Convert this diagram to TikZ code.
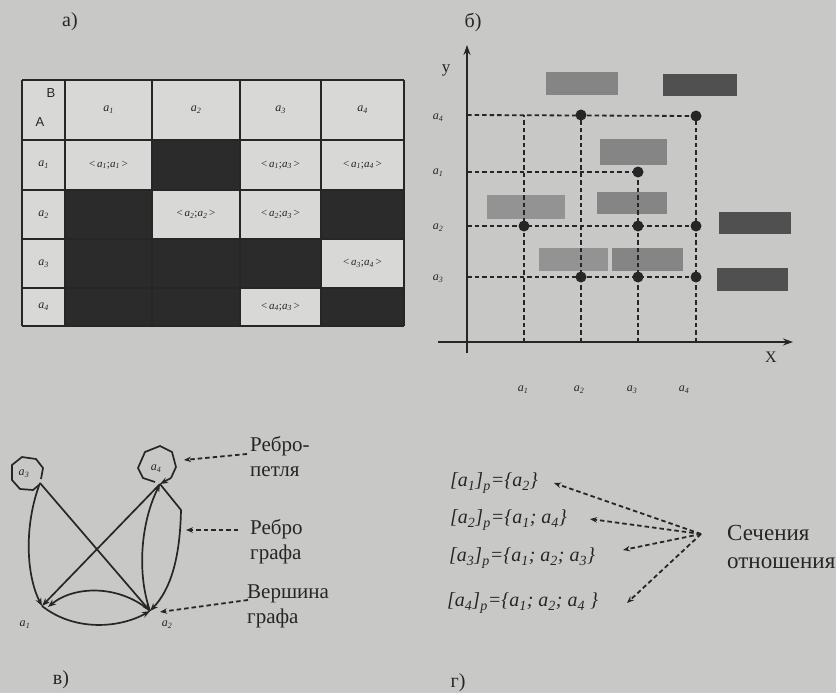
\documentclass[tikz,border=0pt]{standalone}
\usepackage{fontspec}
\setmainfont{Liberation Serif}
\newfontfamily\arialf{Liberation Sans}
\usetikzlibrary{arrows.meta}
\definecolor{bg}{HTML}{C8C8C6}
\definecolor{cellL}{HTML}{D8D8D6}
\definecolor{cellD}{HTML}{2B2B2B}
\definecolor{ink}{HTML}{262626}
\definecolor{boxM}{HTML}{858585}
\definecolor{boxL}{HTML}{939393}
\definecolor{boxD}{HTML}{505050}
\newcommand{\va}[1]{\textit{a}\textsubscript{\textit{#1}}}
\begin{document}
\begin{tikzpicture}[x=1pt,y=-1pt,
  every node/.style={inner sep=0pt, text=ink},
  gridline/.style={draw=ink, line width=1.1pt},
  celltxt/.style={font=\fontsize{11}{13}\selectfont},
  hdrtxt/.style={font=\fontsize{12}{14}\selectfont},
  axis/.style={draw=ink, line width=1.8pt, -{Stealth[length=10pt,width=7pt]}},
  guide/.style={draw=ink, line width=1.8pt, dash pattern=on 4.5pt off 3pt},
  dot/.style={circle, fill=ink, minimum size=11pt},
  edge/.style={draw=ink, line width=1.7pt, -{Stealth[length=8pt,width=6pt]}},
  loopline/.style={draw=ink, line width=1.7pt},
  note/.style={draw=ink, line width=1.8pt, dash pattern=on 4.5pt off 3pt, -{Stealth[length=7pt,width=5.5pt]}},
  lbl/.style={font=\fontsize{21}{25}\selectfont, align=left, anchor=west},
  sect/.style={font=\fontsize{20}{24}\selectfont\itshape, anchor=west},
  panel/.style={font=\fontsize{20}{24}\selectfont},
  small/.style={font=\fontsize{12}{14}\selectfont},
]
\fill[bg] (0,0) rectangle (836,693);
\useasboundingbox (0,0) rectangle (836,693);

% ---------- panel a) table ----------
\node[panel] (la) at (70,22) {а)};
\fill[cellL] (22,80) rectangle (404,326);
\fill[cellD] (152,140) rectangle (240,190);
\fill[cellD] (65,190) rectangle (152,239);
\fill[cellD] (321,190) rectangle (404,239);
\fill[cellD] (65,239) rectangle (321,288);
\fill[cellD] (65,288) rectangle (240,326);
\fill[cellD] (321,288) rectangle (404,326);
\foreach \x in {22,65,152,240,321,404} \draw[gridline] (\x,80) -- (\x,326);
\foreach \y in {80,140,190,239,288,326} \draw[gridline] (22,\y) -- (404,\y);
\node[font=\arialf\fontsize{13}{15}\selectfont] (hB) at (51,93) {B};
\node[font=\arialf\fontsize{13}{15}\selectfont] (hA) at (40,122) {A};
\node[hdrtxt] (c1) at (108.5,110) {\va1};
\node[hdrtxt] (c2) at (196,110) {\va2};
\node[hdrtxt] (c3) at (280.5,110) {\va3};
\node[hdrtxt] (c4) at (362.5,110) {\va4};
\node[hdrtxt] (r1) at (43.5,165) {\va1};
\node[hdrtxt] (r2) at (43.5,214.5) {\va2};
\node[hdrtxt] (r3) at (43.5,263.5) {\va3};
\node[hdrtxt] (r4) at (43.5,307) {\va4};
\node[celltxt] (e11) at (108.5,165) {<\,\va1;\va1\,>};
\node[celltxt] (e13) at (280.5,165) {<\,\va1;\va3\,>};
\node[celltxt] (e14) at (362.5,165) {<\,\va1;\va4\,>};
\node[celltxt] (e22) at (196,214.5) {<\,\va2;\va2\,>};
\node[celltxt] (e23) at (280.5,214.5) {<\,\va2;\va3\,>};
\node[celltxt] (e34) at (362.5,263.5) {<\,\va3;\va4\,>};
\node[celltxt] (e43) at (280.5,307) {<\,\va4;\va3\,>};

% ---------- panel b) plot ----------
\node[panel] (lb) at (473,22) {б)};
\fill[boxM] (546,72) rectangle (618,95);
\fill[boxD] (663,74) rectangle (737,96);
\fill[boxM] (600,139) rectangle (667,165);
\fill[boxL] (487,195) rectangle (565,219);
\fill[boxM] (597,192) rectangle (667,214);
\fill[boxD] (719,212) rectangle (791,234);
\fill[boxL] (539,248) rectangle (608,271);
\fill[boxM] (612,248) rectangle (683,271);
\fill[boxD] (717,268) rectangle (788,291);

\coordinate (ybot) at (467,353);
\coordinate (ytop) at (467,45);
\coordinate (xleft) at (438,342);
\coordinate (xright) at (793,342);
\draw[axis] (ybot) -- (ytop);
\draw[axis] (xleft) -- (xright);
\node[font=\fontsize{17}{19}\selectfont] (ly) at (446,70) {y};
\node[font=\fontsize{16}{18}\selectfont] (lx) at (771,357) {X};

\coordinate (ya4) at (467,115);
\coordinate (ya1) at (467,172);
\coordinate (ya2) at (467,226);
\coordinate (ya3) at (467,277);
\coordinate (xa1) at (524,342);
\coordinate (xa2) at (581,342);
\coordinate (xa3) at (638,342);
\coordinate (xa4) at (696,342);
\coordinate (t1) at (524,115);

\node[dot] (p24) at (581,115) {};
\node[dot] (p44) at (696,116) {};
\node[dot] (p31) at (638,172) {};
\node[dot] (p12) at (524,226) {};
\node[dot] (p32) at (638,226) {};
\node[dot] (p42) at (696,226) {};
\node[dot] (p23) at (581,277) {};
\node[dot] (p33) at (638,277) {};
\node[dot] (p43) at (696,277) {};

\draw[guide] (ya4) -- (p44.center);
\draw[guide] (ya1) -- (p31.center);
\draw[guide] (ya2) -- (p42.center);
\draw[guide] (ya3) -- (p43.center);
\draw[guide] (xa1) -- (t1);
\draw[guide] (xa2) -- (p24.center);
\draw[guide] (xa3) -- (p31.center);
\draw[guide] (xa4) -- (p44.center);

\node[small] (yl4) at (438,118) {\va4};
\node[small] (yl1) at (438,173) {\va1};
\node[small] (yl2) at (438,228) {\va2};
\node[small] (yl3) at (438,279) {\va3};
\node[small] (xl1) at (523,390) {\va1};
\node[small] (xl2) at (579,390) {\va2};
\node[small] (xl3) at (632,390) {\va3};
\node[small] (xl4) at (684,390) {\va4};

% ---------- panel v) graph ----------
\node[panel] (lv) at (61,680) {в)};
\coordinate (g3) at (40,483);
\coordinate (g4) at (160,484);
\coordinate (g1) at (42,606);
\coordinate (g2) at (150,611);

\draw[loopline] (41,479) -- (43,468) -- (36,459) -- (22,457) -- (12,465) -- (12,480) -- (20,489) -- (33,490) -- (39,485);
\draw[loopline] (155,482) -- (143,478) -- (138,468) -- (145,452) -- (160,446) -- (172,452) -- (176,467) -- (171,478);
\draw[edge] (171,478) -- (g4);
\node[small] (ga3) at (24,474) {\va3};
\node[small] (ga4) at (156,469) {\va4};
\node[small] (ga1) at (25,625) {\va1};
\node[small] (ga2) at (167,625) {\va2};

\draw[edge] (g3) .. controls (24,525) and (26,575) .. (g1);
\draw[edge] (g3) -- (g2);
\draw[edge] (g4) -- (g1);
\draw[edge] (g2) .. controls (120,585) and (75,585) .. (48,607);
\draw[edge] (g1) .. controls (75,632) and (120,628) .. (g2);
\draw[edge] (g2) .. controls (136,570) and (142,520) .. (g4);
\draw[edge] (g4) -- (181,510) .. controls (180,560) and (170,590) .. (g2);

\coordinate (n1) at (247,454);
\coordinate (n1e) at (184,460);
\coordinate (n2) at (238,530);
\coordinate (n2e) at (186,530);
\coordinate (n3) at (248,600);
\coordinate (n3e) at (160,612);
\node[lbl] (t1l) at (250,457) {Ребро-\\петля};
\node[lbl] (t2l) at (250,542) {Ребро\\графа};
\node[lbl] (t3l) at (247,606) {Вершина\\графа};
\draw[note] (n1) -- (n1e);
\draw[note] (n2) -- (n2e);
\draw[note] (n3) -- (n3e);

% ---------- panel g) sections ----------
\node[panel] (lg) at (458,683) {г)};
\node[sect] (s1) at (450,483) {[\va1]\textsubscript{\textit{p}}=\{\va2\}};
\node[sect] (s2) at (450,520) {[\va2]\textsubscript{\textit{p}}=\{\va1; \va4\}};
\node[sect] (s3) at (449,558) {[\va3]\textsubscript{\textit{p}}=\{\va1; \va2; \va3\}};
\node[sect] (s4) at (447,603) {[\va4]\textsubscript{\textit{p}}=\{\va1; \va2; \va4 \}};
\coordinate (f) at (701,534);
\node[font=\fontsize{23}{28}\selectfont, align=left, anchor=west] (sech) at (727,547) {Сечения\\отношения};
\draw[note] (f) -- (554,483);
\draw[note] (f) -- (590,519);
\draw[note] (f) -- (623,550);
\draw[note] (f) -- (627,603);
\end{tikzpicture}
\end{document}
